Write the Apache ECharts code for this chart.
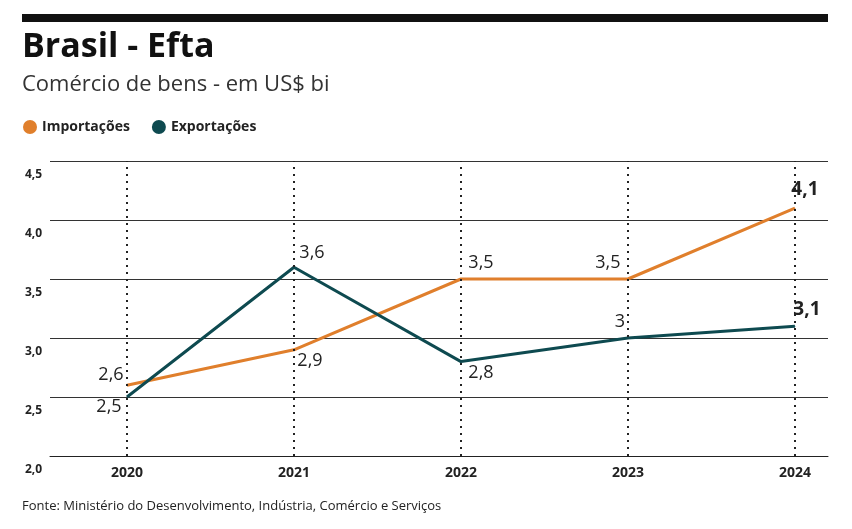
<!DOCTYPE html>
<html><head><meta charset="utf-8">
<script src="https://cdn.jsdelivr.net/npm/echarts@6/dist/echarts.min.js"></script>
<style>body{margin:0;background:#fff}#c{width:852px;height:529px}</style>
</head><body><div id="c"></div>
<script>
var years = [2020, 2021, 2022, 2023, 2024];
var importacoes = [2.6, 2.9, 3.5, 3.5, 4.1];
var exportacoes = [2.5, 3.6, 2.8, 3.0, 3.1];
var yTicks = [2.0, 2.5, 3.0, 3.5, 4.0, 4.5];

// label centre offsets from the point (dx, dy)
var impPos = [[-16, -8], [16, 14], [20, -14], [-20, -14], [10, -16]];
var expPos = [[-18, 12], [18, -12], [20, 14], [-8, -14], [12, -14]];
function fmt(v) { return String(v).replace('.', ','); }
function build(vals, pos) {
  return vals.map(function (v, i) {
    var last = i === vals.length - 1;
    return {
      value: [years[i], v],
      label: {
        show: true, position: 'top', offset: [pos[i][0], pos[i][1] + 12],
        formatter: fmt(v),
        fontSize: last ? 19 : 18, fontWeight: last ? 'bold' : 'normal',
        color: '#222', fontFamily: 'Open Sans'
      }
    };
  });
}

var chart = echarts.init(document.getElementById('c'));
chart.setOption({
  animation: false,
  graphic: [
    { type: 'rect', shape: { x: 22, y: 14, width: 806, height: 8 }, style: { fill: '#111' } },
    { type: 'text', left: 22, top: 30, style: { text: 'Brasil - Efta', font: 'bold 34px "Open Sans"', fill: '#111' } },
    { type: 'text', left: 22, top: 74, style: { text: 'Comércio de bens - em US$ bi', font: '22px "Open Sans"', fill: '#333' } },
    { type: 'text', left: 22, top: 500, style: { text: 'Fonte: Ministério do Desenvolvimento, Indústria, Comércio e Serviços', font: '13px "Open Sans"', fill: '#222' } }
  ],
  legend: {
    left: 18, top: 115, icon: 'circle', itemWidth: 14, itemHeight: 14, itemGap: 22,
    textStyle: { fontFamily: 'Open Sans', fontWeight: 'bold', fontSize: 14, color: '#222' }
  },
  grid: { left: 50, right: 24, top: 161, bottom: 73 },
  xAxis: {
    type: 'value', min: 2019.539, max: 2024.198,
    axisLine: { lineStyle: { color: '#222' } }, axisTick: { show: false }, splitLine: { show: false },
    axisLabel: { customValues: years, formatter: function (v) { return String(Math.round(v)); },
      fontWeight: 'bold', fontSize: 14, color: '#222', fontFamily: 'Open Sans', margin: 10 }
  },
  yAxis: {
    type: 'value', min: 2, max: 4.5, interval: 0.5,
    axisLine: { show: false }, axisTick: { show: false },
    splitLine: { lineStyle: { color: '#333', width: 1 } },
    axisLabel: { align: 'left', margin: 25, verticalAlign: 'top', padding: [8, 0, 0, 0],
      formatter: function (v) { return v.toFixed(1).replace('.', ','); },
      fontWeight: 'bold', fontSize: 12, color: '#222', fontFamily: 'Open Sans' }
  },
  series: [
    { name: 'Importações', type: 'line', data: build(importacoes, impPos), symbol: 'circle', symbolSize: 1,
      color: '#e07f2c', lineStyle: { width: 3 }, z: 3,
      markLine: { silent: true, symbol: 'none', label: { show: false },
        lineStyle: { color: '#222', type: [2, 5], width: 2 },
        data: years.map(function (y) { return { xAxis: y }; }) } },
    { name: 'Exportações', type: 'line', data: build(exportacoes, expPos), symbol: 'circle', symbolSize: 1,
      color: '#0e4a50', lineStyle: { width: 3 }, z: 4 }
  ]
});
</script></body></html>
